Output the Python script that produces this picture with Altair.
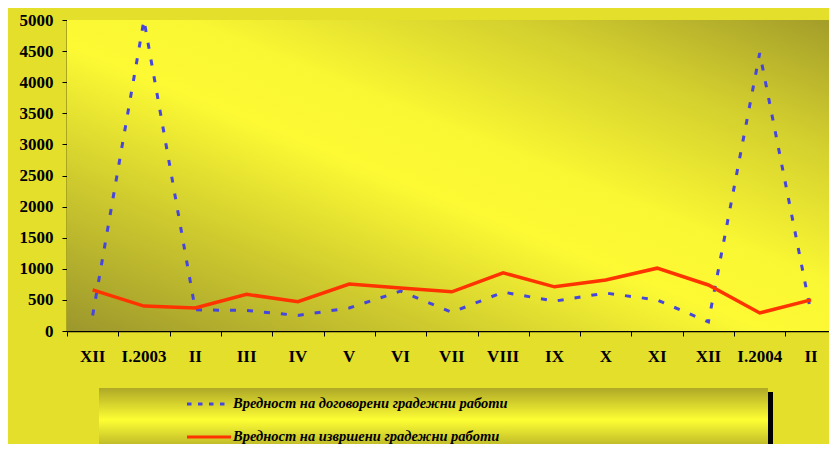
import altair as alt
import pandas as pd

# ---- data ----
months = ["XII", "I.2003", "II", "III", "IV", "V", "VI", "VII", "VIII", "IX",
          "X", "XI", "XII", "I.2004", "II"]
contracted = [250, 5000, 340, 330, 250, 370, 640, 300, 625, 480, 610, 500, 145, 4470, 290]
executed = [660, 400, 370, 590, 470, 755, 690, 630, 935, 710, 820, 1010, 740, 290, 500]
y_ticks = list(range(0, 5001, 500))
legend_labels = ["Вредност на договорени градежни работи",
                 "Вредност на извршени градежни работи"]

W, H = 762, 311
BLUE = "#4646dc"
RED = "#ff3300"
FONT = "Liberation Serif"

df = pd.DataFrame({"idx": list(range(len(months))), "month": months,
                   "contracted": contracted, "executed": executed})
one = pd.DataFrame({"k": [0]})

xs = alt.Scale(domain=[0, 14.85], nice=False, zero=False)
ys = alt.Scale(domain=[0, 5000], nice=False)

x_axis = alt.Axis(values=list(range(15)), labels=False, ticks=True, tickSize=5,
                  tickColor="black", domainColor="black", domainWidth=1.5,
                  grid=False, title=None)
y_axis = alt.Axis(values=y_ticks, format="d", labelFont=FONT, labelFontWeight="bold",
                  labelFontSize=17, labelColor="black", tickSize=5, tickColor="black",
                  labelPadding=9, domainColor="black", domainWidth=1.5, grid=False,
                  title=None, labelOverlap=False, tickCount=11)

plot_grad = alt.LinearGradient(
    gradient="linear",
    stops=[alt.GradientStop(color="#9c972c", offset=0),
           alt.GradientStop(color="#cfcb2e", offset=0.25),
           alt.GradientStop(color="#fdfa34", offset=0.46),
           alt.GradientStop(color="#f9f633", offset=0.58),
           alt.GradientStop(color="#d2ce2e", offset=0.8),
           alt.GradientStop(color="#a39d2a", offset=1)],
    x1=0, y1=1, x2=1, y2=0)

legend_grad = alt.LinearGradient(
    gradient="linear",
    stops=[alt.GradientStop(color="#aea827", offset=0),
           alt.GradientStop(color="#fefe33", offset=0.5),
           alt.GradientStop(color="#aea827", offset=1)],
    x1=0, y1=0, x2=0, y2=1)

bg = alt.Chart(one).mark_rect(fill=plot_grad).encode(
    x=alt.value(0), x2=alt.value(W), y=alt.value(0), y2=alt.value(H))

base = alt.Chart(df).transform_calculate(pos="datum.idx + 0.5")

line_c = base.mark_line(color=BLUE, strokeWidth=3, strokeDash=[6, 11], strokeCap="butt").encode(
    x=alt.X("pos:Q", scale=xs, axis=x_axis),
    y=alt.Y("contracted:Q", scale=ys, axis=y_axis))

line_e = base.mark_line(color=RED, strokeWidth=3.5).encode(
    x=alt.X("pos:Q", scale=xs, axis=x_axis),
    y=alt.Y("executed:Q", scale=ys, axis=y_axis))

xlabels = base.mark_text(font=FONT, fontWeight="bold", fontSize=17, color="black",
                         baseline="middle", align="center").encode(
    x=alt.X("pos:Q", scale=xs, axis=x_axis), y=alt.value(337), text="month:N")

# legend box
shadow = alt.Chart(one).mark_rect(fill="black").encode(
    x=alt.value(36), x2=alt.value(706), y=alt.value(372), y2=alt.value(436))
box = alt.Chart(one).mark_rect(fill=legend_grad).encode(
    x=alt.value(32), x2=alt.value(701), y=alt.value(368), y2=alt.value(432))
sym1 = alt.Chart(one).mark_rule(color=BLUE, strokeWidth=3, strokeDash=[4.5, 6.5]).encode(
    x=alt.value(120), x2=alt.value(162), y=alt.value(384))
sym2 = alt.Chart(one).mark_rule(color=RED, strokeWidth=3).encode(
    x=alt.value(120), x2=alt.value(164), y=alt.value(417))
txt1 = alt.Chart(one).mark_text(font=FONT, fontWeight="bold", fontStyle="italic", fontSize=14.5,
                                color="black", align="left", baseline="middle").encode(
    x=alt.value(166), y=alt.value(384), text=alt.value(legend_labels[0]))
txt2 = alt.Chart(one).mark_text(font=FONT, fontWeight="bold", fontStyle="italic", fontSize=14.5,
                                color="black", align="left", baseline="middle").encode(
    x=alt.value(166), y=alt.value(417), text=alt.value(legend_labels[1]))

chart = alt.layer(bg, line_c, line_e, xlabels, shadow, box, sym1, sym2, txt1, txt2).properties(
    width=W, height=H,
    padding={"left": 59, "top": 12, "right": 0, "bottom": 113},
    autosize="none",
).configure(background="#e3df2a").configure_view(stroke=None)

chart.save("out.html", embed_options={"renderer": "svg", "actions": False})
